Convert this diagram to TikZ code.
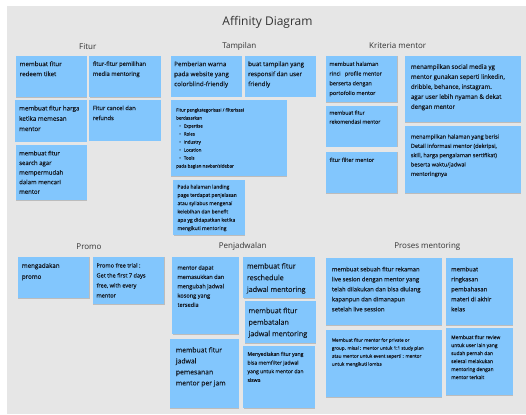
\documentclass[tikz,border=0pt]{standalone}
\usepackage{fontspec}
\setmainfont{Open Sans}
\newfontfamily\notefam{Open Sans}[FakeBold=0.5]
\usepackage{tikz}
\usetikzlibrary{shadows}

\definecolor{boardgrey}{HTML}{E6E6E6}
\definecolor{stickyblue}{HTML}{82C6FD}
\definecolor{inkdark}{HTML}{161C26}
\definecolor{headgrey}{HTML}{333333}
\newcommand{\notefont}[2]{\fontsize{#1}{#2}\selectfont}

\begin{document}
\begin{tikzpicture}[x=1pt, y=-1pt,
    sticky/.style={fill=stickyblue, drop shadow={shadow xshift=0.4pt, shadow yshift=-0.6pt, opacity=0.18, fill=black}},
    note/.style={anchor=north west, inner sep=0pt, align=left, text=inkdark},
    grouphead/.style={text=headgrey, font=\notefont{8}{10}}]
    \useasboundingbox (0,0) rectangle (526,414);
    \fill[boardgrey] (7,6) rectangle (526,414);

    \node[text=headgrey, font=\notefont{12}{14}] (title) at (267.5,22) {Affinity Diagram};

    % Fitur
    \node[grouphead] (fiturhead) at (87.8,46.7) {Fitur};
    \fill[sticky] (15.7,55.7) rectangle (87,97.3);
    \node[note, font=\notefam\notefont{6.2}{10}] (fitur1) at (19.5,61.2) {membuat fitur\\redeem tiket};
    \fill[sticky] (89.3,55.7) rectangle (161,97.3);
    \node[note, font=\notefam\notefont{5.8}{10}] (fitur2) at (92.7,61.2) {fitur-fitur pemilihan\\media mentoring};
    \fill[sticky] (15,100) rectangle (87,141.7);
    \node[note, font=\notefam\notefont{6.2}{10.3}] (fitur3) at (19,105.5) {membuat fitur harga\\ketika memesan\\mentor};
    \fill[sticky] (89.3,100) rectangle (161,140.7);
    \node[note, font=\notefam\notefont{5.8}{10}] (fitur4) at (92.7,105.5) {Fitur cancel dan\\refunds};
    \fill[sticky] (15.7,145) rectangle (87,200);
    \node[note, font=\notefam\notefont{6}{9.6}] (fitur5) at (19,150.6) {membuat fitur\\search agar\\mempermudah\\dalam mencari\\mentor};

    % Tampilan
    \node[grouphead] (tampilanhead) at (239.3,46) {Tampilan};
    \fill[sticky] (171,55.7) rectangle (242,96.7);
    \node[note, font=\notefam\notefont{6.3}{10}] (tampilan1) at (174,61.2) {Pemberian warna\\pada website yang\\colorblind-friendly};
    \fill[sticky] (245,55.7) rectangle (316,96.7);
    \node[note, font=\notefam\notefont{6.2}{10}] (tampilan2) at (248,61.2) {buat tampilan yang\\responsif dan user\\friendly};
    \fill[sticky] (171,100) rectangle (286.7,176);
    \node[note, font=\notefam\notefont{4.4}{8}] (tampilan3) at (176,108) {Fitur pengkategorisasi / filterisasi\\berdasarkan\\
        \hspace*{3pt}\textbullet\hspace{3pt}Expertise\\
        \hspace*{3pt}\textbullet\hspace{3pt}Roles\\
        \hspace*{3pt}\textbullet\hspace{3pt}Industry\\
        \hspace*{3pt}\textbullet\hspace{3pt}Location\\
        \hspace*{3pt}\textbullet\hspace{3pt}Tools\\
        pada bagian navbar/sidebar};
    \fill[sticky] (173.3,180) rectangle (245,235);
    \node[note, font=\notefam\notefont{5}{8.3}] (tampilan4) at (177.3,184.5) {Pada halaman landing\\page terdapat penjelasan\\atau syllabus mengenai\\kelebihan dan benefit\\apa yg didapatkan ketika\\mengikuti mentoring};

    % Kriteria mentor
    \node[grouphead] (kriteriahead) at (397.7,46) {Kriteria mentor};
    \fill[sticky] (325.7,55.7) rectangle (397.3,102);
    \node[note, font=\notefam\notefont{5.5}{9.7}] (kriteria1) at (329.3,61.5) {membuat halaman\\rinci\ \ \ profile mentor\\berserta dengan\\portofolio mentor};
    \fill[sticky] (325.7,105.7) rectangle (397.3,146.7);
    \node[note, font=\notefam\notefont{5.2}{9}] (kriteria2) at (329.3,110.4) {membuat fitur\\rekomendasi mentor};
    \fill[sticky] (325.7,151.7) rectangle (397.3,193.3);
    \node[note, font=\notefam\notefont{5.5}{9}] (kriteria3) at (329.3,157.5) {fitur filter mentor};
    \fill[sticky] (405,55.7) rectangle (521,122);
    \node[note, font=\notefam\notefont{6.1}{10}] (kriteria4) at (410.7,64) {menampilkan social media yg\\mentor gunakan seperti linkedin,\\dribble, behance, instagram.\\agar user lebih nyaman \& dekat\\dengan mentor};
    \fill[sticky] (405,126) rectangle (521,193.3);
    \node[note, font=\notefam\notefont{5.5}{9.3}] (kriteria5) at (410.7,134.2) {menampilkan halaman yang berisi\\Detail informasi mentor (dekripsi,\\skill, harga pengalaman sertifikat)\\beserta waktu/jadwal\\mentoringnya};

    % Promo
    \node[grouphead] (promohead) at (89,246.7) {Promo};
    \fill[sticky] (17.7,256.7) rectangle (89.3,298.3);
    \node[note, font=\notefam\notefont{6.2}{11}] (promo1) at (21.7,262.9) {mengadakan\\promo};
    \fill[sticky] (92.7,256.7) rectangle (164.3,304);
    \node[note, font=\notefam\notefont{5.6}{10}] (promo2) at (96.3,263) {Promo free trial :\\Get the first 7 days\\free, with every\\mentor};

    % Penjadwalan
    \node[grouphead] (jadwalhead) at (242.7,246.7) {Penjadwalan};
    \fill[sticky] (172.3,256.7) rectangle (238.7,334);
    \node[note, font=\notefam\notefont{5.6}{9.3}] (jadwal1) at (177.3,265.2) {mentor dapat\\memasukkan dan\\mengubah jadwal\\kosong yang\\tersedia};
    \fill[sticky] (243.3,256.7) rectangle (315,298.3);
    \node[note, font=\notefam\notefont{7.2}{11.7}] (jadwal2) at (246.7,262.8) {membuat fitur\\reschedule\\jadwal mentoring};
    \fill[sticky] (245,301) rectangle (316,343.3);
    \node[note, font=\notefam\notefont{7.2}{11.5}] (jadwal3) at (248.3,307.5) {membuat fitur\\pembatalan\\jadwal mentoring};
    \fill[sticky] (170,339) rectangle (238.7,408.3);
    \node[note, font=\notefam\notefont{6.8}{11}] (jadwal4) at (175.7,347) {membuat fitur\\jadwal\\pemesanan\\mentor per jam};
    \fill[sticky] (243.3,345.7) rectangle (315,408.3);
    \node[note, font=\notefam\notefont{5.1}{8.7}] (jadwal5) at (247.3,351.7) {Menyediakan fitur yang\\bisa memfilter jadwal\\yang untuk mentor dan\\siswa};

    % Proses mentoring
    \node[grouphead] (proseshead) at (427.3,246.7) {Proses mentoring};
    \fill[sticky] (325.7,258.3) rectangle (442,325);
    \node[note, font=\notefam\notefont{5.9}{10}] (proses1) at (331.7,266.6) {membuat sebuah fitur rekaman\\live sesion dengan mentor yang\\telah dilakukan dan bisa diulang\\kapanpun dan dimanapun\\setelah live session};
    \fill[sticky] (446,258.3) rectangle (512.7,325);
    \node[note, font=\notefam\notefont{5.9}{10}] (proses2) at (451,266.6) {membuat\\ringkasan\\pembahasan\\materi di akhir\\kelas};
    \fill[sticky] (325.7,330) rectangle (442,397.3);
    \node[note, font=\notefam\notefont{4.6}{8}] (proses3) at (331.7,338) {Membuat fitur mentor for private or\\group. misal : mentor untuk 1:1 study plan\\atau mentor untuk event seperti : mentor\\untuk mengikuti lomba};
    \fill[sticky] (446,327.7) rectangle (512.7,395);
    \node[note, font=\notefam\notefont{4.9}{8}] (proses4) at (451,335.1) {Membuat fitur review\\untuk user lain yang\\sudah pernah dan\\selesai melakukan\\mentoring dengan\\mentor terkait};
\end{tikzpicture}
\end{document}
